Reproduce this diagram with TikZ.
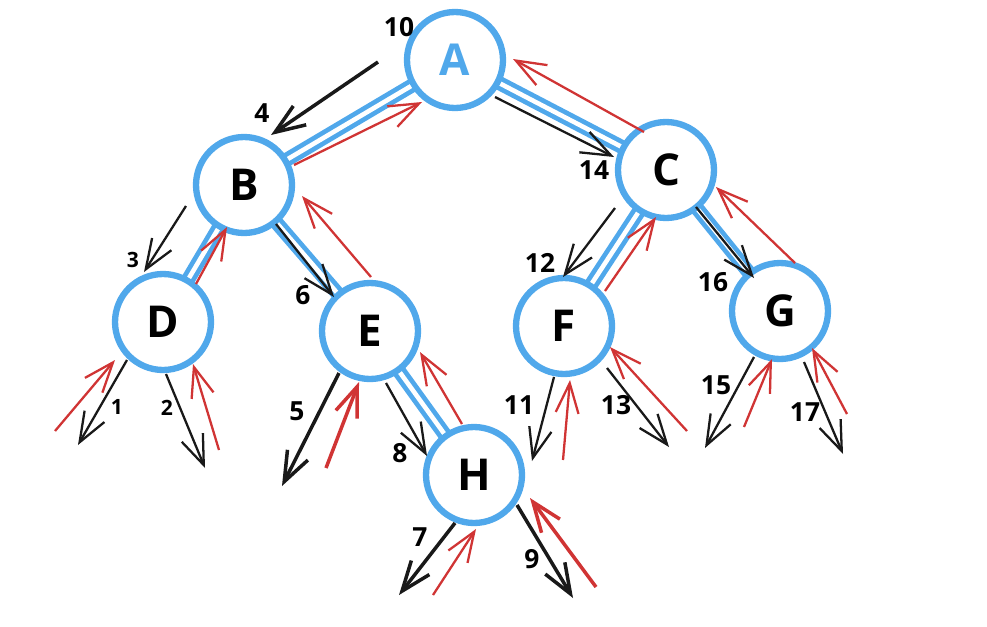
\documentclass[tikz,border=0pt]{standalone}
\usepackage{fontspec}
\setmainfont{Open Sans}
\usetikzlibrary{arrows.meta, backgrounds}

\definecolor{treeblue}{RGB}{80,168,235}
\definecolor{backred}{RGB}{208,52,52}
\definecolor{goblack}{RGB}{25,25,25}

\tikzset{
  vertex/.style={circle, draw=treeblue, line width=3.6pt, fill=white,
    minimum size=1.92cm, inner sep=0pt, font=\bfseries\fontsize{25}{25}\selectfont},
  branch/.style={draw=treeblue, line width=2.7pt, double=white, double distance=2.6pt},
  barbtip/.style={-{Straight Barb[length=17pt,width=13pt]}},
  godown/.style={barbtip, draw=goblack, line width=1.3pt},
  godownthick/.style={barbtip, draw=goblack, line width=2pt},
  goup/.style={barbtip, draw=backred, line width=1.3pt},
  goupthick/.style={barbtip, draw=backred, line width=2pt},
  num/.style={font=\bfseries\fontsize{15}{15}\selectfont, inner sep=0pt},
  numsmall/.style={font=\bfseries\fontsize{12}{12}\selectfont, inner sep=0pt}
}

\begin{document}
\begin{tikzpicture}[x=0.02cm, y=-0.02cm]
    \useasboundingbox (0,0) rectangle (987,626);

    % 結點
    \node[vertex, text=treeblue] (A) at (455,60) {A};
    \node[vertex] (B) at (244,185) {B};
    \node[vertex] (C) at (666,170) {C};
    \node[vertex] (D) at (163,322) {D};
    \node[vertex] (E) at (370,331) {E};
    \node[vertex] (F) at (564,326) {F};
    \node[vertex] (G) at (780,311) {G};
    \node[vertex] (H) at (474,475) {H};

    % 樹枝
    \begin{scope}[on background layer]
      \foreach \p/\q in {A/B, A/C, B/D, B/E, C/F, C/G, E/H}
        \draw[branch] (\p.center) -- (\q.center);
    \end{scope}

    % 向下走 (黑色)
    \foreach \n/\xa/\ya/\xb/\yb/\st in {
        ab/378/62/271/135/godownthick,
        ac/495/97/614/157/godown,
        bd/186/206/144/272/godown,
        be/276/224/334/297/godown,
        cf/615/208/563/277/godown,
        cg/696/207/754/278/godown,
        da/127/360/78/445/godown,
        db/166/374/205/468/godown,
        ea/339/373/282/486/godownthick,
        eh/386/383/427/456/godown,
        fa/554/377/532/461/godown,
        fb/607/368/669/447/godown,
        ga/754/357/705/448/godown,
        gb/804/362/843/454/godown,
        ha/455/523/399/595/godownthick,
        hb/517/505/573/598/godownthick}{
      \coordinate (k\n-s) at (\xa,\ya);
      \coordinate (k\n-e) at (\xb,\yb);
      \draw[\st] (k\n-s) -- (k\n-e);
    }

    % 返回 (紅色)
    \foreach \n/\xa/\ya/\xb/\yb/\st in {
        ba/294/165/422/102/goup,
        ca/644/132/513/59/goup,
        db/196/284/227/227/goup,
        eb/371/277/302/196/goup,
        fc/605/291/656/217/goup,
        gc/795/263/716/187/goup,
        he/462/424/420/352/goup,
        da/55/431/115/360/goup,
        dd/219/450/193/364/goup,
        ee/326/468/359/382/goupthick,
        fa/563/460/570/380/goup,
        ff/687/431/610/347/goup,
        ga/744/427/772/359/goup,
        gg/847/414/812/348/goup,
        ha/433/595/476/529/goup,
        hh/596/587/530/498/goupthick}{
      \coordinate (r\n-s) at (\xa,\ya);
      \coordinate (r\n-e) at (\xb,\yb);
      \draw[\st] (r\n-s) -- (r\n-e);
    }

    % 步數
    \foreach \n/\x/\y/\t/\st in {
        s10/399/27/10/num, s4/262/113/4/num, s14/594/170/14/num,
        s3/133/260/3/numsmall, s6/303/295/6/num,
        s1/117/407/1/numsmall, s2/167/408/2/numsmall,
        s5/297/411/5/num, s8/400/453/8/num,
        s12/540/263/12/num, s16/713/282/16/num,
        s11/519/405/11/num, s13/616/405/13/num,
        s15/716/385/15/num, s17/805/412/17/num,
        s7/420/537/7/num, s9/532/559/9/num}
      \node[\st] (\n) at (\x,\y) {\t};
\end{tikzpicture}
\end{document}
